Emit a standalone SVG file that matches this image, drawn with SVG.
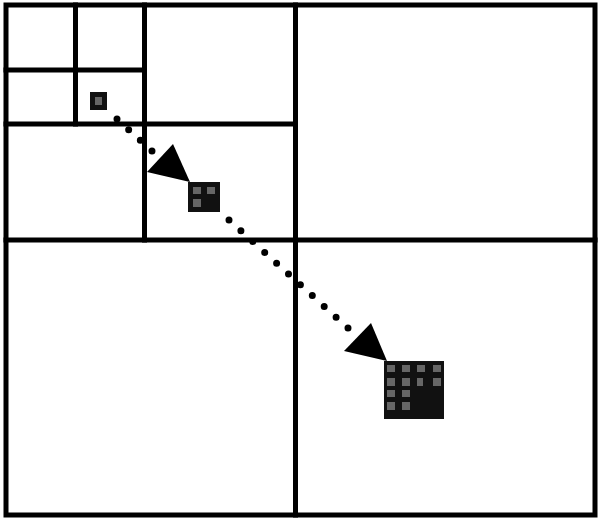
<svg xmlns="http://www.w3.org/2000/svg" width="598" height="518" viewBox="0 0 598 518">
<style>
.ln{stroke:#000;stroke-width:5;fill:none;stroke-linecap:square}
.ic{fill:#111}
.g{fill:#8a8a8a;opacity:0.7}
.dots{stroke:#000;stroke-width:7;stroke-linecap:round;fill:none}
.head{fill:#000}
</style>
<rect width="598" height="518" fill="#fff"/>
<g id="grid">
<rect class="ln" x="6" y="5" width="589" height="510"/>
<line class="ln" x1="295.5" y1="5" x2="295.5" y2="515"/>
<line class="ln" x1="6" y1="240" x2="595" y2="240"/>
<line class="ln" x1="144.5" y1="5" x2="144.5" y2="240"/>
<line class="ln" x1="6" y1="124" x2="295.5" y2="124"/>
<line class="ln" x1="75.5" y1="5" x2="75.5" y2="124"/>
<line class="ln" x1="6" y1="70" x2="144.5" y2="70"/>
</g>
<g id="node-small">
<rect class="ic" x="90" y="92" width="17" height="18"/>
<rect class="g" x="95" y="97" width="7" height="8"/>
</g>
<g id="node-medium">
<rect class="ic" x="188" y="182" width="32" height="30"/>
<rect class="g" x="193" y="187" width="8" height="7"/>
<rect class="g" x="207" y="187" width="8" height="7"/>
<rect class="g" x="193" y="199" width="8" height="8"/>
</g>
<g id="node-large">
<rect class="ic" x="384" y="361" width="60" height="58"/>
<rect class="g" x="387" y="365" width="8" height="7"/>
<rect class="g" x="402" y="365" width="8" height="7"/>
<rect class="g" x="417" y="365" width="8" height="7"/>
<rect class="g" x="433" y="365" width="8" height="7"/>
<rect class="g" x="387" y="378" width="8" height="8"/>
<rect class="g" x="402" y="378" width="8" height="8"/>
<rect class="g" x="417" y="378" width="6" height="8"/>
<rect class="g" x="433" y="378" width="8" height="8"/>
<rect class="g" x="387" y="390" width="8" height="7"/>
<rect class="g" x="402" y="390" width="8" height="7"/>
<rect class="g" x="387" y="402" width="8" height="8"/>
<rect class="g" x="402" y="402" width="8" height="8"/>
</g>
<g id="connectors">
<path class="dots" d="M117,119 L152,151" stroke-dasharray="0 15.8"/>
<polygon class="head" points="173,144 147,172 190,182"/>
<path class="dots" d="M229,220 L348,328" stroke-dasharray="0 16.07"/>
<polygon class="head" points="371,323 344,351 387,361"/>
</g>
</svg>
